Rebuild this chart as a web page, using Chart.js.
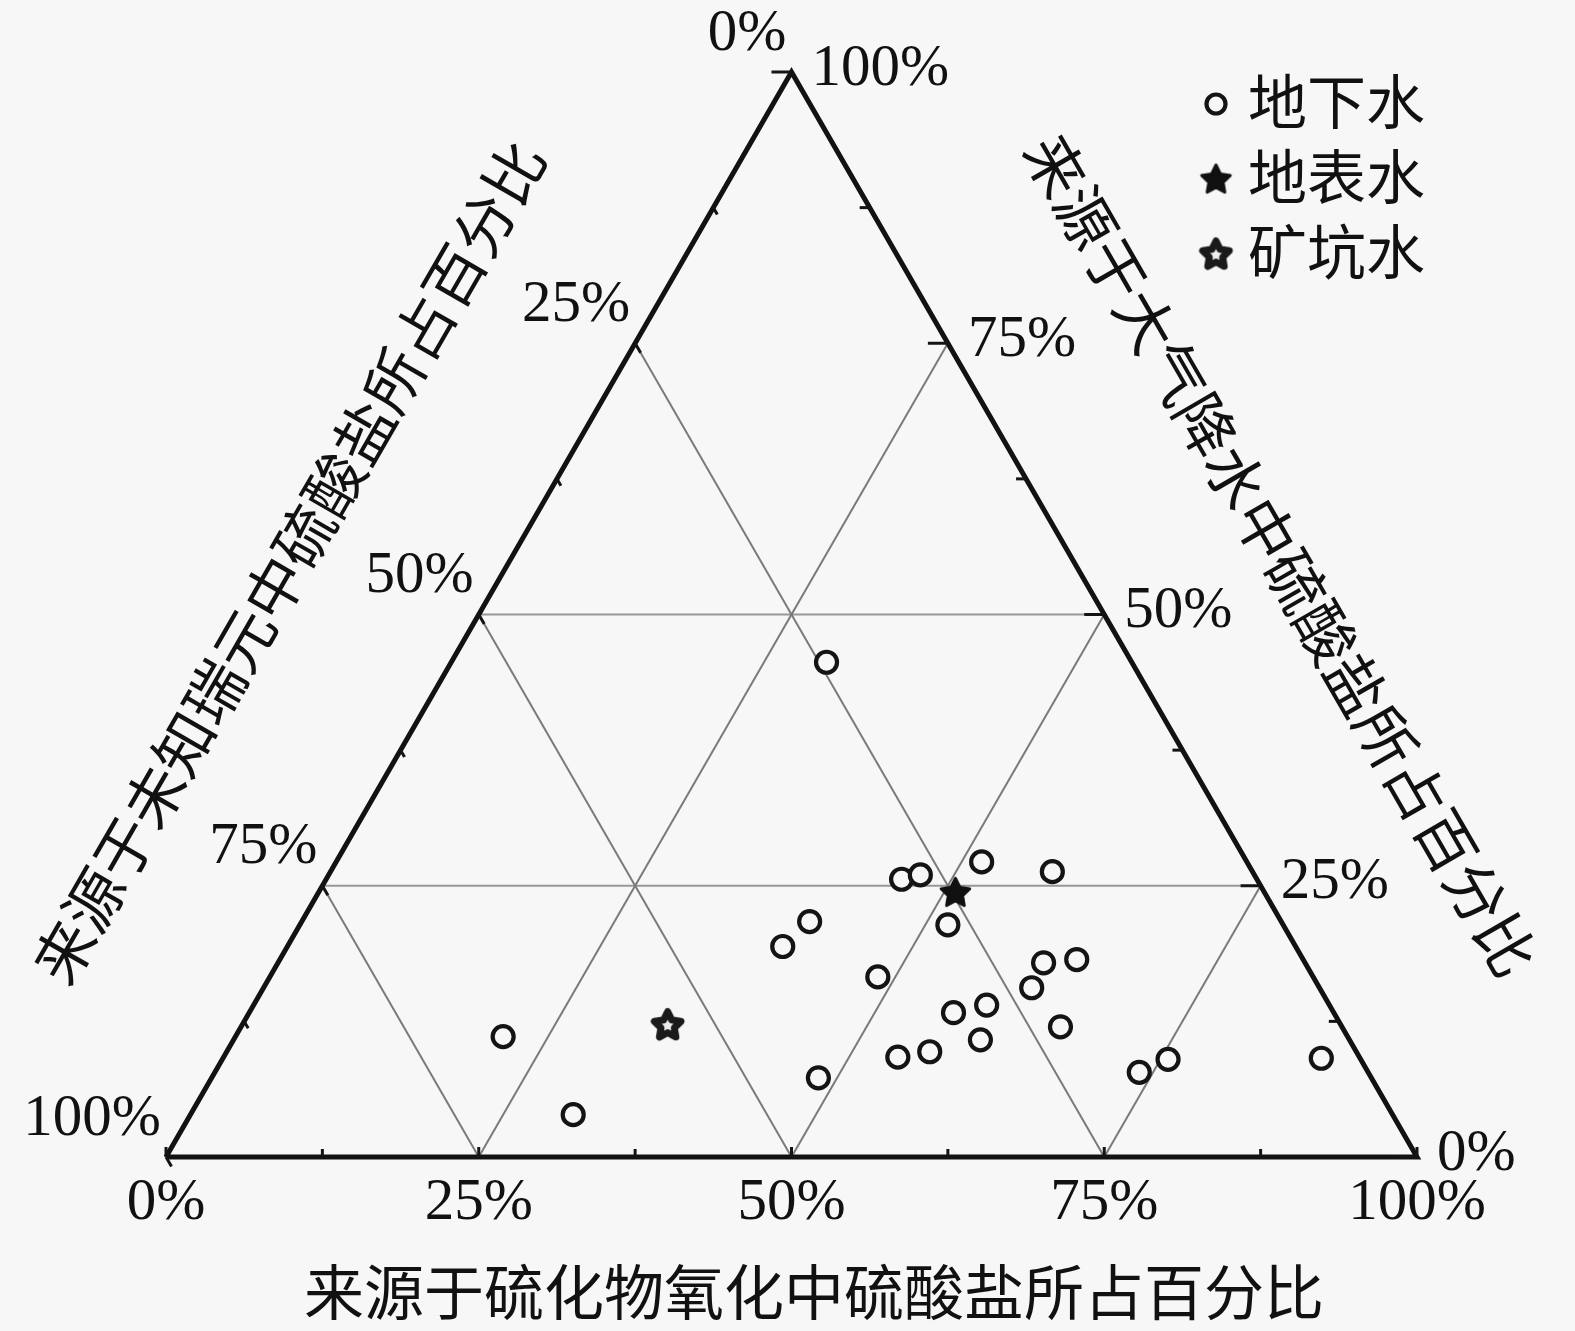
<!DOCTYPE html>
<html>
<head>
<meta charset="utf-8">
<script src="https://cdn.jsdelivr.net/npm/chart.js@4.4.1/dist/chart.umd.min.js"></script>
<style>
  html, body { margin: 0; padding: 0; background: #f7f7f7; }
  canvas { display: block; }
</style>
</head>
<body>
<canvas id="ternary" width="1575" height="1331"></canvas>
<script>
// Sulfate source apportionment, in percent:
// sulfide oxidation (bottom axis), atmospheric precipitation (right axis), unknown end-member (left axis)
const seriesNames = ['地下水', '地表水', '矿坑水'];

const groundSulfide = [30.0, 46.0, 47.3, 51.6, 57.7, 51.8, 40.6, 39.6, 48.6, 61.2, 63.7, 61.4, 58.6, 56.3, 65.5, 59.7, 56.2, 53.9, 48.5, 73.9, 75.6, 87.8, 21.4, 30.6];
const groundAtmos   = [45.6, 25.6, 26.0, 27.2, 26.3, 21.4, 21.7, 19.4, 16.6, 17.9, 18.2, 15.6, 14.0, 13.3, 12.0, 10.8,  9.7,  9.2,  7.3,  7.8,  9.0,  9.1, 11.1,  3.9];
const groundUnknown = [24.4, 28.4, 26.7, 21.2, 16.0, 26.8, 37.7, 41.0, 34.8, 20.9, 18.1, 23.0, 27.4, 30.4, 22.5, 29.5, 34.1, 36.9, 44.2, 18.3, 15.4,  3.1, 67.5, 65.5];

const surfaceSulfide = [50.9];
const surfaceAtmos   = [24.4];
const surfaceUnknown = [24.7];

const mineSulfide = [34.0];
const mineAtmos   = [12.2];
const mineUnknown = [53.8];

const tickValues = [0, 25, 50, 75, 100];
const tickLabels = ['0%', '25%', '50%', '75%', '100%'];
const minorTicks = [0, 12.5, 25, 37.5, 50, 62.5, 75, 87.5, 100];

const gridSulfide = [25, 50, 75];
const gridUnknown = [25, 50, 75];
const gridAtmos   = [25, 50];

const titleBottom = '来源于硫化物氧化中硫酸盐所占百分比';
const titleLeft   = '来源于未知瑞元中硫酸盐所占百分比';
const titleRight  = '来源于大气降水中硫酸盐所占百分比';

// ternary (sulfide, atmos) -> plane coordinates on the x/y scales
const pt = (s, a) => ({ x: s + a / 2, y: a });

function starCanvas(fill, stroke, lw, R, r) {
  const size = Math.ceil(2 * R + lw + 4);
  const c = document.createElement('canvas');
  c.width = size; c.height = size;
  const g = c.getContext('2d');
  const cx = size / 2, cy = size / 2 + 1;
  g.beginPath();
  for (let i = 0; i < 10; i++) {
    const rad = i % 2 === 0 ? R : r;
    const ang = -Math.PI / 2 + i * Math.PI / 5;
    const x = cx + rad * Math.cos(ang), y = cy + rad * Math.sin(ang);
    if (i === 0) g.moveTo(x, y); else g.lineTo(x, y);
  }
  g.closePath();
  g.fillStyle = fill; g.fill();
  if (lw > 0) { g.lineJoin = 'round'; g.lineWidth = lw; g.strokeStyle = stroke; g.stroke(); }
  return c;
}
const solidStar = starCanvas('#111', '#111', 3, 15, 7.5);
const hollowStar = starCanvas('#eeeeee', '#1a1a1a', 7, 14, 7);

const datasets = [];
datasets.push({
  label: seriesNames[0],
  data: groundSulfide.map((s, i) => pt(s, groundAtmos[i])),
  pointStyle: 'circle', pointRadius: 10.5, borderWidth: 4.2,
  borderColor: '#141414', backgroundColor: '#f7f7f7',
  showLine: false, clip: false, order: 0
});
datasets.push({
  label: seriesNames[1],
  data: surfaceSulfide.map((s, i) => pt(s, surfaceAtmos[i])),
  pointStyle: solidStar, showLine: false, clip: false, order: 0
});
datasets.push({
  label: seriesNames[2],
  data: mineSulfide.map((s, i) => pt(s, mineAtmos[i])),
  pointStyle: hollowStar, showLine: false, clip: false, order: 0
});

function gridLine(p, q) {
  return {
    data: [p, q], showLine: true, pointRadius: 0, borderColor: '#7a7a7a',
    borderWidth: 2, fill: false, tension: 0, clip: false, order: 3
  };
}
gridSulfide.forEach(s => datasets.push(gridLine(pt(s, 0), pt(s, 100 - s))));
gridUnknown.forEach(u => datasets.push(gridLine(pt(100 - u, 0), pt(0, 100 - u))));
gridAtmos.forEach(a => {
  const d = gridLine(pt(0, a), pt(100 - a, a));
  d.borderColor = '#989898';
  datasets.push(d);
});

// triangle frame
datasets.push({
  data: [pt(0, 0), pt(100, 0), pt(0, 100), pt(0, 0)],
  showLine: true, pointRadius: 0, borderColor: '#121212', borderWidth: 5,
  borderJoinStyle: 'miter', fill: false, tension: 0, clip: false, order: 1
});

const decor = {
  id: 'ternaryDecor',
  beforeDraw(chart) {
    const c = chart.ctx;
    c.save();
    c.fillStyle = '#f7f7f7';
    c.fillRect(0, 0, chart.width, chart.height);
    c.restore();
  },
  afterDatasetsDraw(chart) {
    const c = chart.ctx, xs = chart.scales.x, ys = chart.scales.y;
    const P = (s, a) => { const q = pt(s, a); return [xs.getPixelForValue(q.x), ys.getPixelForValue(q.y)]; };
    c.save();
    c.strokeStyle = '#141414';
    c.lineWidth = 3;
    minorTicks.forEach(v => {
      const major = v % 25 === 0;
      // bottom axis: sulfide
      let [x, y] = P(v, 0);
      c.beginPath(); c.moveTo(x, y); c.lineTo(x, y - (major ? 10 : 8)); c.stroke();
      // right axis: atmospheric
      [x, y] = P(100 - v, v);
      c.beginPath(); c.moveTo(x, y); c.lineTo(x - (major ? 20 : 10), y); c.stroke();
      // left axis: unknown
      [x, y] = P(0, 100 - v);
      const L = major ? 11 : 8;
      c.beginPath(); c.moveTo(x, y); c.lineTo(x + L * 0.5, y + L * 0.866); c.stroke();
    });
    c.restore();
  },
  afterDraw(chart) {
    const c = chart.ctx, xs = chart.scales.x, ys = chart.scales.y;
    const P = (s, a) => { const q = pt(s, a); return [xs.getPixelForValue(q.x), ys.getPixelForValue(q.y)]; };
    c.save();
    c.fillStyle = '#111';
    c.font = '59px "Liberation Serif", "Times New Roman", serif';
    c.textBaseline = 'middle';
    tickValues.forEach((v, i) => {
      // bottom
      let [x, y] = P(v, 0);
      c.textAlign = 'center';
      c.fillText(tickLabels[i], x, y + 46);
      // right (atmospheric)
      [x, y] = P(100 - v, v);
      c.textAlign = 'left';
      c.fillText(tickLabels[i], x + 20, y - 3);
      // left (unknown)
      [x, y] = P(0, 100 - v);
      c.textAlign = 'right';
      c.fillText(tickLabels[i], x - 5, y - 38);
    });

    const cjk = '"Noto Sans CJK SC", "Noto Sans CJK JP", sans-serif';
    c.textAlign = 'center';
    c.font = '60px ' + cjk;
    c.fillText(titleBottom, 814, 1292);

    c.font = '60px ' + cjk;
    c.save();
    c.translate(289, 562);
    c.rotate(-Math.PI / 3);
    c.fillText(titleLeft, 0, 0);
    c.restore();

    c.save();
    c.translate(1281, 555);
    c.rotate(Math.PI / 3);
    c.fillText(titleRight, 0, 0);
    c.restore();

    // legend
    const lx = 1216, rows = [104, 179, 254];
    c.textAlign = 'left';
    c.font = '59px ' + cjk;
    rows.forEach((ry, i) => c.fillText(seriesNames[i], 1248, ry - 2));
    c.beginPath();
    c.arc(lx, rows[0], 9.5, 0, Math.PI * 2);
    c.fillStyle = '#f7f7f7'; c.fill();
    c.lineWidth = 4.2; c.strokeStyle = '#141414'; c.stroke();
    c.drawImage(solidStar, lx - solidStar.width / 2, rows[1] - solidStar.height / 2);
    c.drawImage(hollowStar, lx - hollowStar.width / 2, rows[2] - hollowStar.height / 2);
    c.restore();
  }
};

new Chart(document.getElementById('ternary'), {
  type: 'scatter',
  data: { datasets },
  options: {
    responsive: false,
    animation: false,
    events: [],
    layout: { padding: { left: 166, right: 158, top: 72, bottom: 174 } },
    scales: {
      x: { type: 'linear', min: 0, max: 100, display: false },
      y: { type: 'linear', min: 0, max: 100, display: false }
    },
    plugins: { legend: { display: false }, tooltip: { enabled: false } }
  },
  plugins: [decor]
});
</script>
</body>
</html>
